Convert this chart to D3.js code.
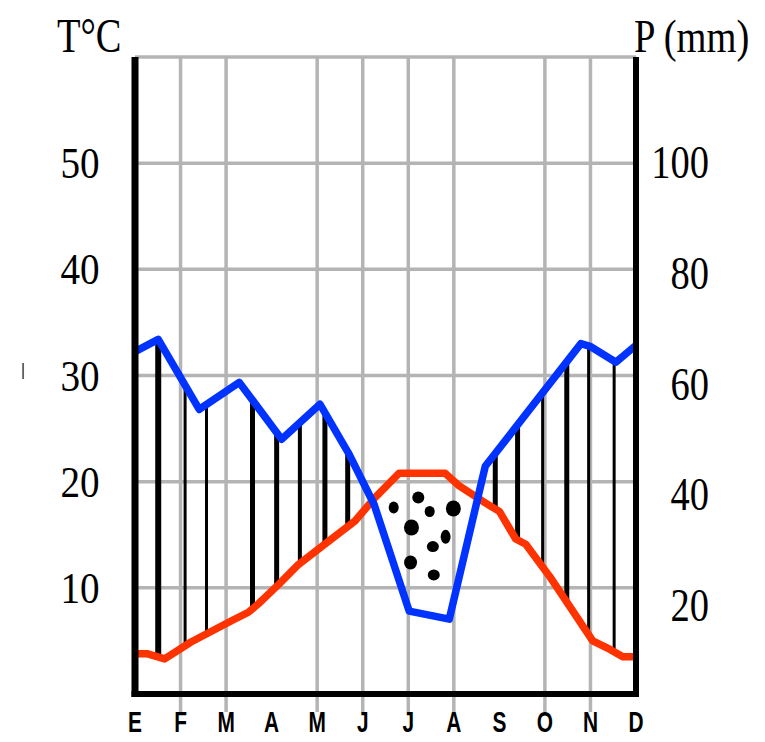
<!DOCTYPE html>
<html>
<head>
<meta charset="utf-8">
<script src="https://cdn.jsdelivr.net/npm/d3@7"></script>
<style>
  html, body { margin: 0; padding: 0; background: #ffffff; }
  svg { display: block; }
</style>
</head>
<body>
<script>
// ---------------- DATA ----------------
const months = ["E","F","M","A","M","J","J","A","S","O","N","D"];
const gridMonths = [1, 2, 4, 5, 6, 7, 9, 10];

const tempTicks = [10, 20, 30, 40, 50];
const precipTicks = [20, 40, 60, 80, 100];

// temperature curve (month position, °C)
const tempPos = [0, 0.26, 0.65, 1.23, 2.12, 2.49, 2.71, 3.15, 3.59, 4.10, 4.83, 5.27, 5.80, 6.81, 7.12, 7.69, 8.00, 8.36, 8.58, 9.10, 10.05, 10.43, 10.71, 11];
const tempC   = [3.8, 3.8, 3.3, 4.9, 6.9, 7.7, 8.5, 10.3, 12.2, 13.9, 16.3, 18.5, 20.8, 20.8, 19.6, 18.0, 17.2, 14.6, 14.1, 11.1, 5.0, 4.2, 3.5, 3.5];

// precipitation curve (month position, mm)
const precipPos = [0, 0.51, 1.41, 2.29, 3.22, 4.06, 4.70, 5.25, 6.02, 6.90, 7.69, 9.79, 9.99, 10.56, 11];
const precipMm  = [64.5, 66.8, 53.6, 58.7, 48.0, 54.6, 45.2, 35.7, 15.6, 14.1, 42.9, 66.0, 65.5, 62.5, 65.7];

// humid-period hatching (month positions)
const hatchPos = [0.51, 1.10, 1.57, 2.58, 3.11, 3.62, 4.17, 4.67, 7.91, 8.40, 8.95, 9.48, 9.96, 10.52];

// dry-period dots (month position, °C)
const dryDotPos  = [6.22, 5.68, 6.47, 6.99, 6.07, 6.82, 6.54, 6.05, 6.56];
const dryDotTemp = [18.5, 17.56, 17.19, 17.47, 15.68, 14.80, 13.89, 12.39, 11.22];

// ---------------- STYLE ----------------
const W = 765, H = 742;
const hatchWidth = [6, 3, 3, 5, 5, 4, 5, 5, 5, 5, 3, 5, 3, 3];
const dotRx = [6, 5, 5, 7.5, 7.5, 5, 6, 6.5, 6];
const dotRy = [6, 6, 5.5, 8, 8, 7, 5.5, 7, 5.5];
const RED = "#ff3300", BLUE = "#0033ff", GRID = "#b4b4b4";

const x = d3.scaleLinear().domain([0, 11]).range([135, 636]);
const y = d3.scaleLinear().domain([0, 60]).range([694, 57]);        // °C
const yP = d3.scaleLinear().domain([0, 120]).range([694, 57]);      // mm (P = 2T)
const yPLabel = d3.scaleLinear().domain([20, 100]).range([605, 162]);

function interp(xs, ys, m) {
  for (let i = 0; i < xs.length - 1; i++) {
    if (m >= xs[i] && m <= xs[i + 1]) {
      const t = (m - xs[i]) / (xs[i + 1] - xs[i]);
      return ys[i] + t * (ys[i + 1] - ys[i]);
    }
  }
  return ys[ys.length - 1];
}

const svg = d3.select("body").append("svg")
  .attr("width", W).attr("height", H)
  .attr("viewBox", `0 0 ${W} ${H}`);
svg.append("rect").attr("width", W).attr("height", H).attr("fill", "#fff");

// grid
const g = svg.append("g");
g.selectAll("line.h").data(tempTicks.concat([60])).join("line")
  .attr("x1", x(0)).attr("x2", x(11))
  .attr("y1", d => y(d)).attr("y2", d => y(d))
  .attr("stroke", GRID).attr("stroke-width", 3.5);
g.selectAll("line.v").data(gridMonths).join("line")
  .attr("x1", d => x(d)).attr("x2", d => x(d))
  .attr("y1", y(60)).attr("y2", y(0) + 18)
  .attr("stroke", GRID).attr("stroke-width", 3.5);

// hatching
svg.append("g").selectAll("line").data(hatchPos).join("line")
  .attr("x1", d => x(d)).attr("x2", d => x(d))
  .attr("y1", d => yP(interp(precipPos, precipMm, d)))
  .attr("y2", d => y(interp(tempPos, tempC, d)))
  .attr("stroke", "#000").attr("stroke-width", (d, i) => hatchWidth[i]);

// dry dots
svg.append("g").selectAll("ellipse").data(dryDotPos).join("ellipse")
  .attr("cx", d => x(d)).attr("cy", (d, i) => y(dryDotTemp[i]))
  .attr("rx", (d, i) => dotRx[i]).attr("ry", (d, i) => dotRy[i])
  .attr("fill", "#000");

// curves
const tempLine = d3.line().x(d => x(d[0])).y(d => y(d[1]));
const precipLine = d3.line().x(d => x(d[0])).y(d => yP(d[1]));
svg.append("path")
  .attr("d", tempLine(tempPos.map((p, i) => [p, tempC[i]])))
  .attr("fill", "none").attr("stroke", RED).attr("stroke-width", 7.5)
  .attr("stroke-linejoin", "round");
svg.append("path")
  .attr("d", precipLine(precipPos.map((p, i) => [p, precipMm[i]])))
  .attr("fill", "none").attr("stroke", BLUE).attr("stroke-width", 7.5)
  .attr("stroke-linejoin", "round");

// axes frame
const ax = svg.append("g").attr("stroke", "#000");
ax.append("line").attr("x1", x(0)).attr("x2", x(0)).attr("y1", y(60)).attr("y2", y(0) + 3).attr("stroke-width", 7);
ax.append("line").attr("x1", x(11)).attr("x2", x(11)).attr("y1", y(60)).attr("y2", y(0) + 3).attr("stroke-width", 6);
ax.append("line").attr("x1", x(0) - 3.5).attr("x2", x(11) + 3).attr("y1", y(0)).attr("y2", y(0)).attr("stroke-width", 6);

// left tick labels
const serif = "'Liberation Serif', 'Times New Roman', serif";
svg.append("g").selectAll("text").data(tempTicks).join("text")
  .attr("transform", d => `translate(80,${y(d) + 15}) scale(0.87,1)`)
  .attr("text-anchor", "middle")
  .attr("font-family", serif).attr("font-size", 45)
  .text(d => d);

// right tick labels
svg.append("g").selectAll("text").data(precipTicks).join("text")
  .attr("transform", d => `translate(709,${yPLabel(d) + 16}) scale(0.82,1)`)
  .attr("text-anchor", "end")
  .attr("font-family", serif).attr("font-size", 47)
  .text(d => d);

// axis titles
svg.append("text").attr("transform", "translate(57,52) scale(0.8,1)")
  .attr("font-family", serif).attr("font-size", 48)
  .text("T°C");
svg.append("text").attr("transform", "translate(634,52) scale(0.82,1)")
  .attr("font-family", serif).attr("font-size", 47)
  .text("P (mm)");
svg.append("text").attr("x", 23).attr("y", 375)
  .attr("text-anchor", "middle")
  .attr("font-family", serif).attr("font-weight", 700).attr("font-size", 16)
  .text("|");

// month labels
svg.append("g").selectAll("text").data(months).join("text")
  .attr("transform", (d, i) => `translate(${x(i)},732) scale(0.72,1)`)
  .attr("text-anchor", "middle")
  .attr("font-family", "'Liberation Sans', Arial, sans-serif")
  .attr("font-weight", 700).attr("font-size", 29)
  .text(d => d);
</script>
</body>
</html>
